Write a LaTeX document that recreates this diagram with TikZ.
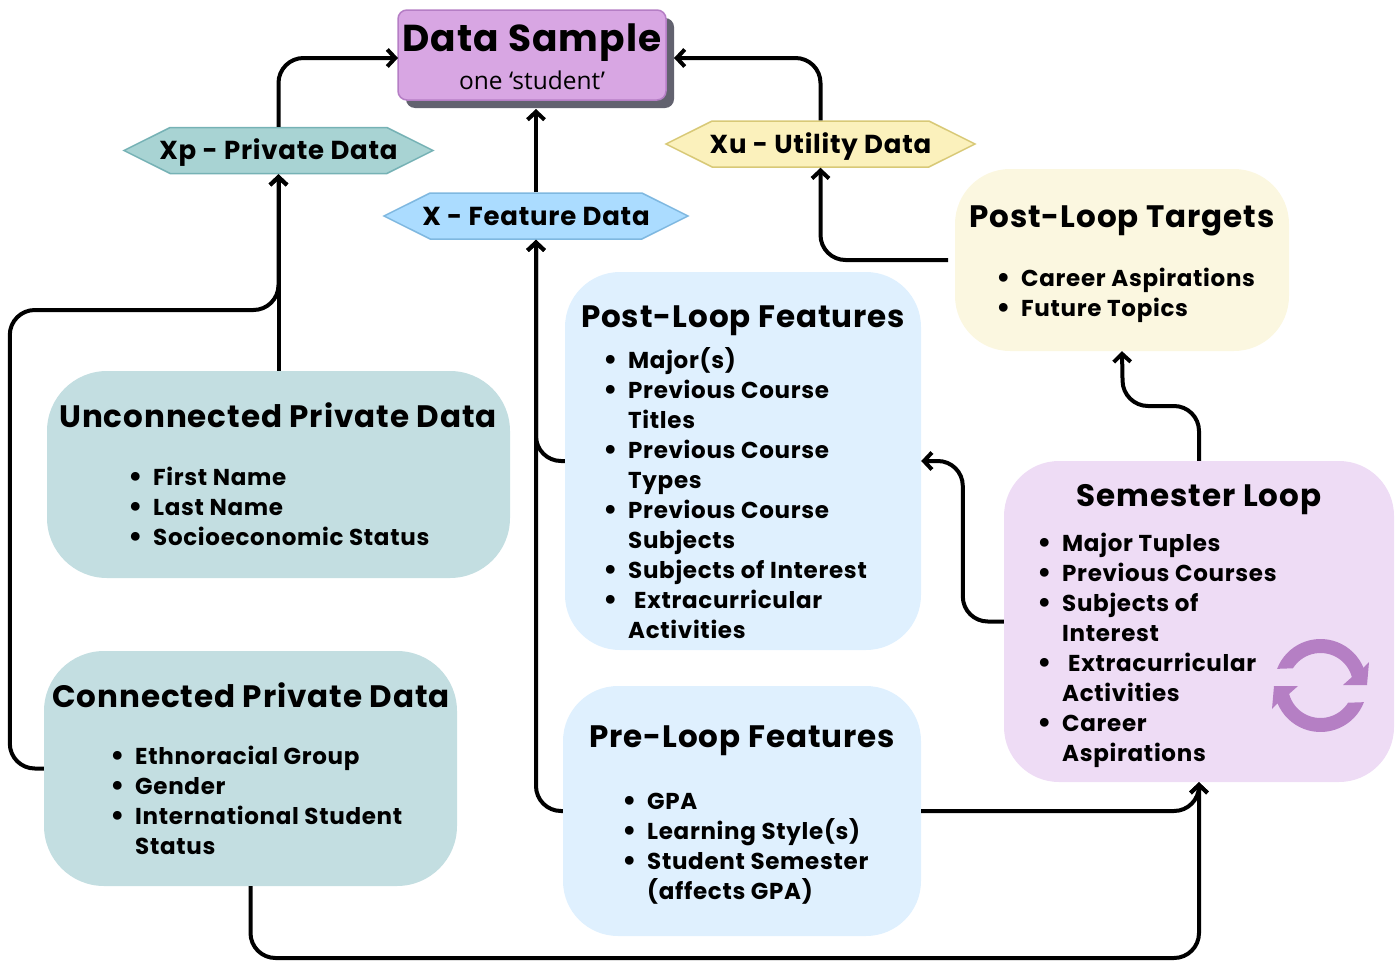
\documentclass[tikz,border=0pt]{standalone}
\usepackage{fontspec}
\usetikzlibrary{shapes.symbols,arrows.meta}
\setmainfont{Poppins}[LetterSpace=3]
\newfontfamily\plainfont{Open Sans}
\definecolor{dsfill}{HTML}{D8A6E3}\definecolor{dsline}{HTML}{B57EC5}\definecolor{dsshadow}{HTML}{62626F}
\definecolor{xpfill}{HTML}{A8D3D3}\definecolor{xpline}{HTML}{76B2B5}
\definecolor{xfill}{HTML}{ABDCFF}\definecolor{xline}{HTML}{7FB8E0}
\definecolor{xufill}{HTML}{FBF1BC}\definecolor{xuline}{HTML}{D8C977}
\definecolor{tealbox}{HTML}{C3DEE1}\definecolor{bluebox}{HTML}{DFF0FE}
\definecolor{yellowbox}{HTML}{FBF7E0}\definecolor{purplebox}{HTML}{EEDCF5}\definecolor{iconc}{HTML}{B57FC4}
\newcommand\bl[2][0pt]{\hbox{\hbox to 22pt{\kern-3pt\lower1.5pt\hbox{\fontsize{29}{30}\selectfont\textbullet}\hss}\hskip#1\relax #2}}
\newcommand\cl[1]{\hbox{\hskip22pt #1}}
\newcommand\lst[1]{\vtop{\baselineskip=30pt\lineskiplimit=-100pt #1}}
\tikzset{
 box/.style={rectangle,rounded corners=#1,inner sep=0pt,draw=none},
 hex/.style={signal,signal to=east and west,signal pointer angle=53,inner sep=0pt,line width=1.5pt,minimum width=309pt,minimum height=46pt},
 title/.style={anchor=base,inner sep=0pt,font=\fontsize{31}{36}\selectfont\bfseries},
 hexlabel/.style={anchor=base,inner sep=0pt,font=\fontsize{26}{30}\selectfont\bfseries},
 items/.style={anchor=base west,inner sep=0pt,font=\fontsize{23}{30}\selectfont\bfseries},
 conn/.style={line width=4pt,rounded corners=25pt,-{Straight Barb[length=8pt,width=17pt,line width=4pt]}},
}
\begin{document}
\begin{tikzpicture}[x=1pt,y=-1pt]
\useasboundingbox (0,0) rectangle (1395,969);
% boxes
\node[box=55pt,fill=yellowbox,minimum width=334pt,minimum height=182pt] (targets) at (1122,260) {};
\node[box=55pt,fill=bluebox,minimum width=356pt,minimum height=378pt] (postf) at (743,461) {};
\node[box=55pt,fill=bluebox,minimum width=358pt,minimum height=250pt] (pref) at (742,811) {};
\node[box=55pt,fill=purplebox,minimum width=390pt,minimum height=321pt] (sem) at (1199,621.5) {};
\node[box=60pt,fill=tealbox,minimum width=463pt,minimum height=207pt] (unc) at (278.5,474.5) {};
\node[box=60pt,fill=tealbox,minimum width=413pt,minimum height=235pt] (conn) at (250.5,768.5) {};
\node[box=9pt,fill=dsshadow,minimum width=268pt,minimum height=90pt] (shadow) at (540,63) {};
\node[box=9pt,fill=dsfill,draw=dsline,line width=1.5pt,minimum width=268pt,minimum height=90pt] (ds) at (532,55) {};
\node[hex,fill=xpfill,draw=xpline] (xp) at (278.5,150.5) {};
\node[hex,fill=xfill,draw=xline,minimum width=304pt] (x) at (536,216) {};
\node[hex,fill=xufill,draw=xuline] (xu) at (820.5,144) {};
\coordinate (dsl) at (398,58);
\coordinate (dsr) at (674,58);
\coordinate (dsb) at (536,109);
\coordinate (tgo) at (948,260);
% connectors
\draw[conn] (xp.north) |- (dsl);
\draw[conn] (xu.north) |- (dsr);
\draw[conn] (x.north) -- (dsb);
\draw[conn] (unc.north) -- (xp.south);
\draw[conn] (conn.west) -- ++(-34,0) |- (278.5,310) -- (xp.south);
\draw[conn] (tgo) -| (xu.south);
\draw[conn] (postf.west) -| (x.south);
\draw[conn] (pref.west) -| (x.south);
\draw[conn] (sem.west) -- ++(-41,0) |- (postf.east);
\draw[conn] (sem.north) |- (1123,406) -- (targets.south);
\draw[conn] (pref.east) -| (sem.south);
\draw[conn] (conn.south) |- (1199,958) -- (sem.south);
% labels
\node[anchor=base,inner sep=0pt,font=\fontsize{37.5}{46}\selectfont\bfseries] (dst) at (532,51) {Data Sample};
\node[anchor=base,inner sep=0pt,font=\plainfont\fontsize{24.5}{28}\selectfont] (dss) at (532,89) {one ‘student’};
\node[hexlabel] (xpt) at (278.5,159) {Xp - Private Data};
\node[hexlabel] (xt) at (536,225) {X - Feature Data};
\node[hexlabel] (xut) at (820.5,153) {Xu - Utility Data};
\node[title] (t1) at (1122,227) {Post-Loop Targets};
\node[title] (t2) at (743,327) {Post-Loop Features};
\node[title] (t3) at (742,747) {Pre-Loop Features};
\node[title] (t4) at (1199,506) {Semester Loop};
\node[title] (t5) at (278,427) {Unconnected Private Data};
\node[title] (t6) at (251,707) {Connected Private Data};
\node[items] (l1) at (999,286) {\lst{\bl{Career Aspirations}\bl{Future Topics}}};
\node[items] (l2) at (606,368) {\lst{\bl{Major(s)}\bl{Previous Course}\cl{Titles}\bl{Previous Course}\cl{Types}\bl{Previous Course}\cl{Subjects}\bl{Subjects of Interest}\bl[6pt]{Extracurricular}\cl{Activities}}};
\node[items] (l3) at (625,809) {\lst{\bl{GPA}\bl{Learning Style(s)}\bl{Student Semester}\cl{(affects GPA)}}};
\node[items] (l4) at (1040,551) {\lst{\bl{Major Tuples}\bl{Previous Courses}\bl{Subjects of}\cl{Interest}\bl[6pt]{Extracurricular}\cl{Activities}\bl{Career}\cl{Aspirations}}};
\node[items] (l5) at (131,485) {\lst{\bl{First Name}\bl{Last Name}\bl{Socioeconomic Status}}};
\node[items] (l6) at (113,764) {\lst{\bl{Ethnoracial Group}\bl{Gender}\bl{International Student}\cl{Status}}};
% loop icon
\begin{scope}[shift={(1320.5,685.5)},x=1pt,y=1pt]
\foreach \r in {0,180}{
\fill[iconc,rotate=\r] (159:46.5) arc[start angle=159,end angle=22.4,radius=46.5] -- (48.5,23.5) -- (46.5,0.5) -- (22.5,0.5) -- (15:32.5) arc[start angle=15,end angle=148,radius=32.5] -- cycle;
}
\end{scope}
\end{tikzpicture}
\end{document}
